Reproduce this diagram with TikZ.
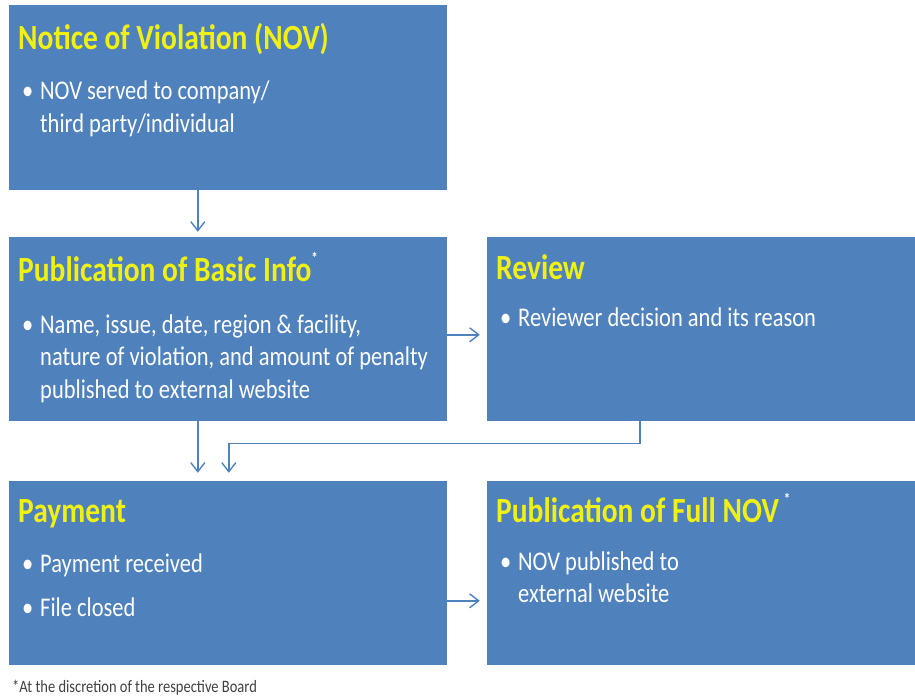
\documentclass[tikz,border=0pt]{standalone}
\usepackage{fontspec}
\usepackage{graphicx}
\setmainfont{Carlito}
\usetikzlibrary{arrows.meta,calc}
\definecolor{boxblue}{HTML}{4F81BD}
\definecolor{ttlyellow}{HTML}{F0F014}
\definecolor{linkblue}{HTML}{4F81BD}
\newcommand{\tall}[1]{\scalebox{1}[1.2]{#1}}
\tikzset{
  panel/.style={fill=boxblue, draw=none, inner sep=0pt},
  ttl/.style={anchor=base west, inner sep=0pt, text=ttlyellow, font=\fontsize{29.5}{34}\selectfont\bfseries},
  txt/.style={anchor=base west, inner sep=0pt, text=white, font=\fontsize{22.5}{32}\selectfont},
  bul/.style={anchor=base west, inner sep=0pt, text=white, font=\fontsize{22.5}{32}\selectfont},
  link/.style={draw=linkblue, line width=1.4pt, -{Straight Barb[length=9pt,width=14pt,line width=1.4pt]}},
  foot/.style={anchor=base west, inner sep=0pt, text=black!75, font=\fontsize{14.5}{16}\selectfont}
}
\begin{document}
\begin{tikzpicture}[x=1pt,y=-1pt]
\useasboundingbox (0,0) rectangle (915,698);
% boxes
\path[panel] (9,5) rectangle (447,190);
\path[panel] (9,237) rectangle (447,421);
\path[panel] (487,237) rectangle (915,421);
\path[panel] (9,481) rectangle (447,665);
\path[panel] (487,481) rectangle (915,665);
\node[inner sep=0pt, minimum width=438pt, minimum height=185pt] (nov) at (228,97.5) {};
\node[inner sep=0pt, minimum width=438pt, minimum height=184pt] (basic) at (228,329) {};
\node[inner sep=0pt, minimum width=428pt, minimum height=184pt] (review) at (701,329) {};
\node[inner sep=0pt, minimum width=438pt, minimum height=184pt] (pay) at (228,573) {};
\node[inner sep=0pt, minimum width=428pt, minimum height=184pt] (full) at (701,573) {};
% NOV
\node[ttl] (t1) at (18,50) {\tall{Notice of Violation (NOV)}};
\node[bul] (b1) at (22,100) {\tall{\textbullet}};
\node[txt] (l11) at (40,100) {\tall{NOV served to company/}};
\node[txt] (l12) at (40,132) {\tall{third party/individual}};
% Basic
\node[ttl] (t2) at (18,281) {\tall{Publication of Basic Info\raisebox{0.5em}{\textcolor{white}{\fontsize{13}{13}\selectfont*}}}};
\node[bul] (b2) at (22,333) {\tall{\textbullet}};
\node[txt] (l21) at (40,333) {\tall{Name, issue, date, region \& facility,}};
\node[txt] (l22) at (40,365) {\tall{nature of violation, and amount of penalty}};
\node[txt] (l23) at (40,398) {\tall{published to external website}};
% Review
\node[ttl] (t3) at (496,279) {\tall{Review}};
\node[bul] (b3) at (500,326) {\tall{\textbullet}};
\node[txt] (l31) at (518,326) {\tall{Reviewer decision and its reason}};
% Payment
\node[ttl] (t4) at (18,522) {\tall{Payment}};
\node[bul] (b4) at (22,572) {\tall{\textbullet}};
\node[txt] (l41) at (40,572) {\tall{Payment received}};
\node[bul] (b5) at (22,616) {\tall{\textbullet}};
\node[txt] (l42) at (40,616) {\tall{File closed}};
% Full
\node[ttl] (t5) at (496,522) {\tall{Publication of Full NOV\,\raisebox{0.5em}{\textcolor{white}{\fontsize{13}{13}\selectfont*}}}};
\node[bul] (b6) at (500,570) {\tall{\textbullet}};
\node[txt] (l51) at (518,570) {\tall{NOV published to}};
\node[txt] (l52) at (518,602) {\tall{external website}};
% footnote
\node[foot] (fn) at (12,692) {\tall{*At the discretion of the respective Board}};
% connectors
\draw[link] ([xshift=189pt]nov.south west) -- ([xshift=189pt,yshift=5pt]basic.north west);
\draw[link] ([yshift=-98pt]basic.north east) -- ([xshift=-7pt,yshift=-98pt]review.north west);
\draw[link] ([xshift=189pt]basic.south west) -- ([xshift=189pt,yshift=8pt]pay.north west);
\draw[link] ([xshift=153pt]review.south west) |- ($([xshift=220pt]basic.south west)+(0,22)$) -- ([xshift=220pt,yshift=8pt]pay.north west);
\draw[link] ([yshift=-120pt]pay.north east) -- ([xshift=-7pt,yshift=-120pt]full.north west);
\end{tikzpicture}
\end{document}
